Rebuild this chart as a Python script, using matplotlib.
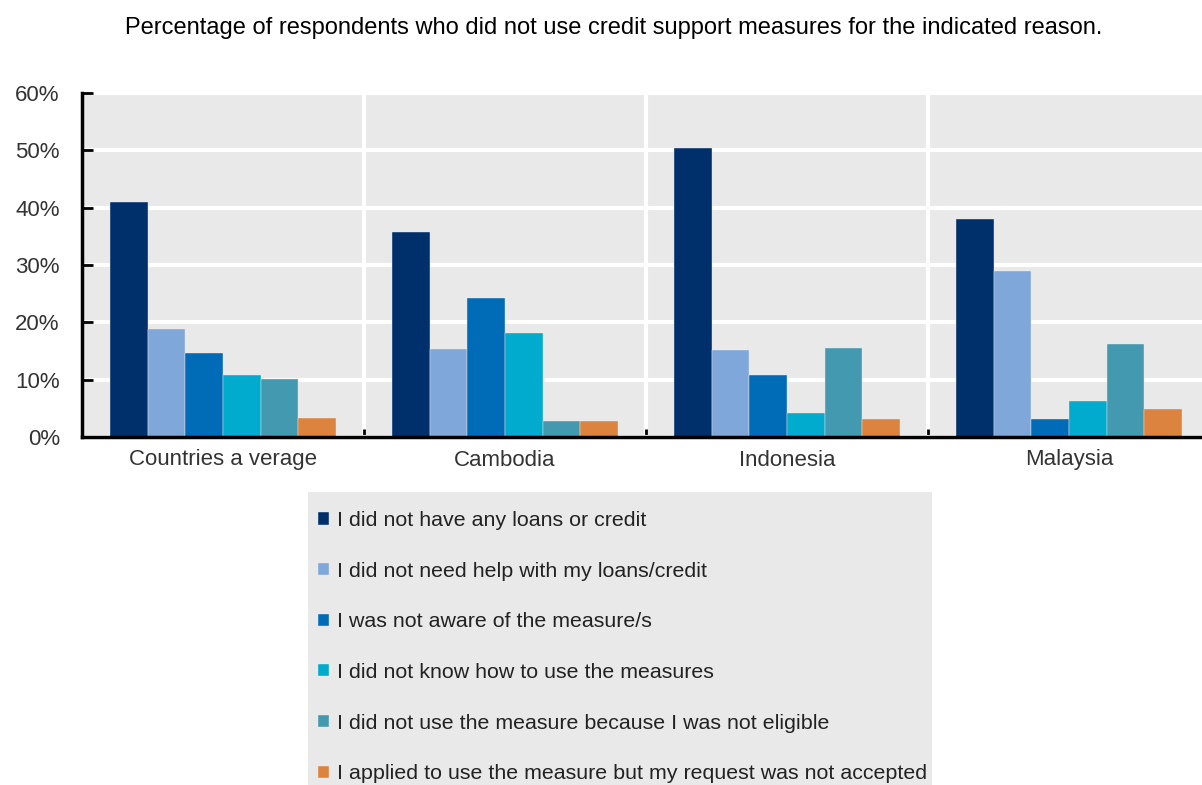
import numpy as np
import matplotlib
matplotlib.use("Agg")
import matplotlib.pyplot as plt
from matplotlib.patches import Rectangle
from matplotlib.ticker import PercentFormatter

plt.rcParams['font.family'] = ['Liberation Sans', 'DejaVu Sans']

# share of respondents (%) per reason, by country group
countries = ['Countries a verage', 'Cambodia', 'Indonesia', 'Malaysia']
reasons = [
    'I did not have any loans or credit',
    'I did not need help with my loans/credit',
    'I was not aware of the measure/s',
    'I did not know how to use the measures',
    'I did not use the measure because I was not eligible',
    'I applied to use the measure but my request was not accepted',
]
no_loans = [41.0, 35.8, 50.4, 38.1]
no_help_needed = [18.8, 15.4, 15.2, 29.0]
not_aware = [14.6, 24.3, 10.8, 3.1]
did_not_know_how = [10.8, 18.1, 4.1, 6.3]
not_eligible = [10.2, 2.8, 15.5, 16.3]
not_accepted = [3.4, 2.8, 3.1, 4.9]
series = [no_loans, no_help_needed, not_aware, did_not_know_how, not_eligible, not_accepted]

colors = ['#00306C', '#7FA7D9', '#006BB6', '#00ABCD', '#4399AF', '#DC843F']
bg = '#E9E9E9'

W, H = 1202, 785
fig = plt.figure(figsize=(W / 100, H / 100), dpi=100)
ax = fig.add_axes([82 / W, 1 - 437 / H, 1128 / W, 344 / H])
ax.set_facecolor(bg)

x = np.arange(len(countries))
bw = 0.133
for i, (vals, c, lab) in enumerate(zip(series, colors, reasons)):
    ax.bar(x + (i - 2.5) * bw, np.array(vals) / 100, bw, color=c, label=lab,
           edgecolor=bg, linewidth=0.3, zorder=3)

ax.set_xlim(-0.5, len(countries) - 0.5)
ax.set_ylim(0, 0.6)
ax.set_yticks(np.arange(0, 0.61, 0.1))
ax.yaxis.set_major_formatter(PercentFormatter(1.0, decimals=0))
ax.grid(axis='y', color='white', linewidth=3, zorder=1)

# group separators
ax.set_xticks(x + 0.5, minor=False)
ax.set_xticklabels([])
for b in x[:-1] + 0.5:
    ax.axvline(b, color='white', linewidth=3, zorder=1)
ax.tick_params(axis='x', direction='in', length=6, width=2, color='black')
ax.set_xticks(x, minor=True)
ax.set_xticklabels(countries, minor=True)
ax.tick_params(axis='x', which='minor', length=0, pad=9, labelsize=16, labelcolor='#333333')
ax.tick_params(axis='y', direction='in', length=8, width=2, pad=16, labelsize=16, labelcolor='#333333')

for s in ['top', 'right']:
    ax.spines[s].set_visible(False)
for s in ['left', 'bottom']:
    ax.spines[s].set_linewidth(2.5)
    ax.spines[s].set_color('black')
    ax.spines[s].set_zorder(4)

fig.text(614 / W, 1 - 28 / H, 'Percentage of respondents who did not use credit support measures for the indicated reason.',
         ha='center', va='center', fontsize=17, color='black')

# legend panel
fig.patches.append(Rectangle((308 / W, 0), 624 / W, 1 - 492 / H, transform=fig.transFigure,
                             facecolor=bg, edgecolor='none', zorder=0))
leg = fig.legend(loc='upper left', bbox_to_anchor=(318 / W, 1 - 511 / H), frameon=False,
                 fontsize=15.4, labelspacing=1.48, handlelength=0.5, handleheight=0.5,
                 handletextpad=0.4, borderpad=0, borderaxespad=0)
for t in leg.get_texts():
    t.set_color('#222222')

fig.savefig('out.png', dpi=100)
